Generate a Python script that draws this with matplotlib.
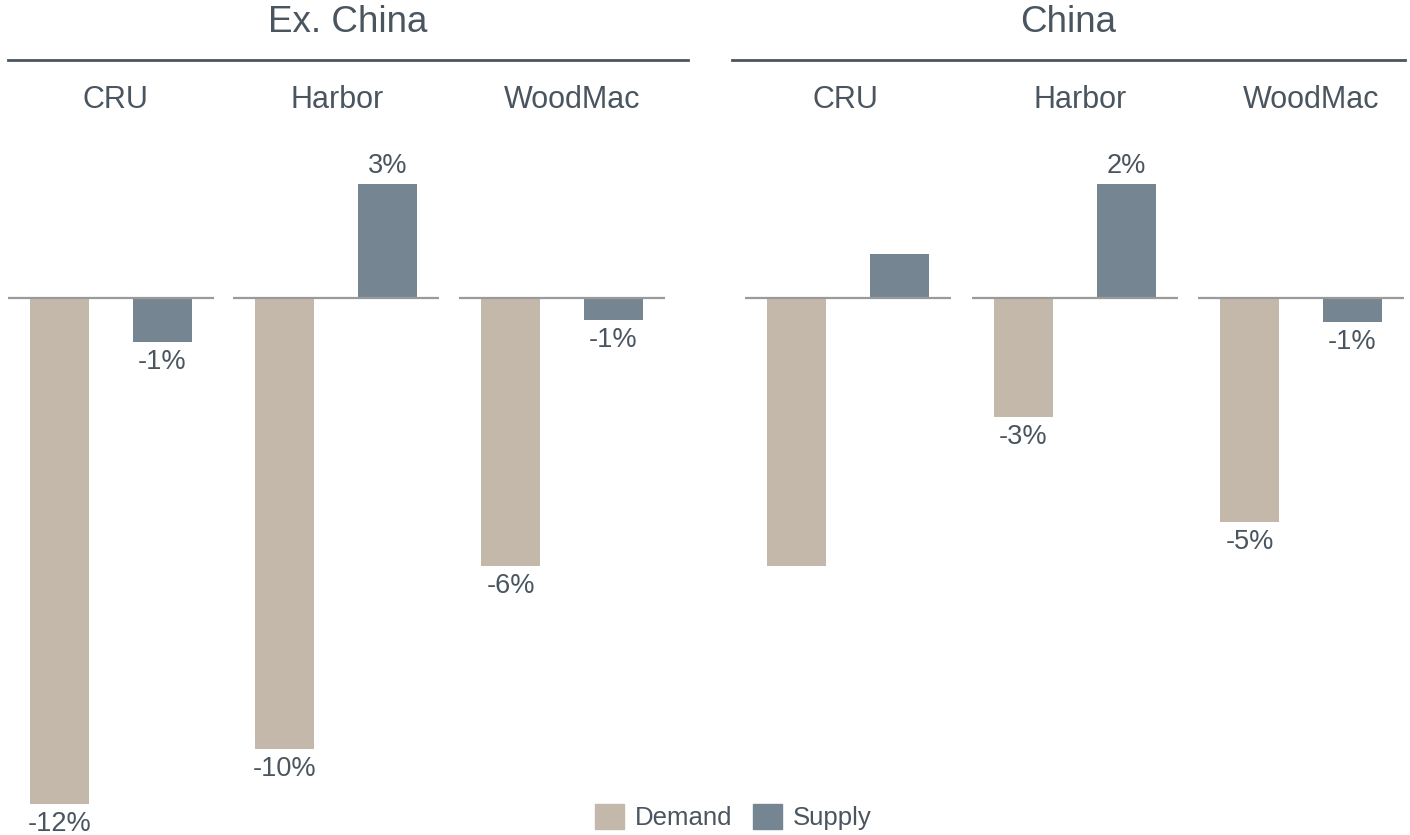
import matplotlib.pyplot as plt
from matplotlib.patches import Patch

plt.rcParams['font.family'] = ['Liberation Sans', 'DejaVu Sans']

# data (% change)
regions = ['Ex. China', 'China']
sources = ['CRU', 'Harbor', 'WoodMac']
demand = [[-11.5, -10.25, -6.1], [-6.1, -2.7, -5.1]]
supply = [[-1.0, 2.6, -0.5], [1.0, 2.6, -0.55]]
demand_labels = [['-12%', '-10%', '-6%'], ['', '-3%', '-5%']]
supply_labels = [['-1%', '3%', '-1%'], ['', '2%', '-1%']]

c_demand = '#c4b8aa'
c_supply = '#758692'
c_text = '#4a5560'
c_zero = '#9a9a9a'

W, H = 1410, 835
fig = plt.figure(figsize=(W / 100, H / 100), dpi=100)

# layout in pixels
panel_left = [[8, 233, 459], [745, 972, 1198]]
panel_w = 206
zero_px = 298
px_per_unit = 44
ymin, ymax = -12, 5
sub_x = [[115, 337, 572], [845, 1080, 1311]]
head_line = [(8, 688), (732, 1405)]


def fx(px):
    return px / W


def fy(py):
    return 1 - py / H


for r in range(2):
    for s in range(3):
        top = zero_px - ymax * px_per_unit
        bot = zero_px - ymin * px_per_unit
        ax = fig.add_axes([fx(panel_left[r][s]), fy(bot), panel_w / W, (bot - top) / H])
        ax.set_xlim(-0.5, 1.5)
        ax.set_ylim(ymin, ymax)
        ax.axis('off')
        vals = [demand[r][s], supply[r][s]]
        labs = [demand_labels[r][s], supply_labels[r][s]]
        ax.bar([0, 1], vals, width=0.57, color=[c_demand, c_supply], zorder=2)
        ax.axhline(0, color=c_zero, lw=1.6, zorder=3)
        for x, v, lab in zip([0, 1], vals, labs):
            if not lab:
                continue
            if v < 0:
                ax.annotate(lab, (x, v), xytext=(0, -5), textcoords='offset points',
                            ha='center', va='top', fontsize=19.5, color=c_text,
                            annotation_clip=False)
            else:
                ax.annotate(lab, (x, v), xytext=(0, 3), textcoords='offset points',
                            ha='center', va='bottom', fontsize=19.5, color=c_text,
                            annotation_clip=False)
        fig.text(fx(sub_x[r][s]), fy(100), sources[s], ha='center', va='center',
                 fontsize=22, color=c_text)

    x0, x1 = head_line[r]
    fig.add_artist(plt.Line2D([fx(x0), fx(x1)], [fy(60), fy(60)], color=c_text, lw=2))
    fig.text(fx((x0 + x1) / 2), fy(23), regions[r], ha='center', va='center',
             fontsize=26.5, color=c_text)

handles = [Patch(color=c_demand, label='Demand'), Patch(color=c_supply, label='Supply')]
leg = fig.legend(handles=handles, loc='center', bbox_to_anchor=(fx(733), fy(817)),
                 ncol=2, frameon=False, fontsize=18.5, handlelength=1.15,
                 handleheight=1.15, handletextpad=0.4, columnspacing=0.8)
for t in leg.get_texts():
    t.set_color(c_text)

fig.savefig('out.png', dpi=100)
